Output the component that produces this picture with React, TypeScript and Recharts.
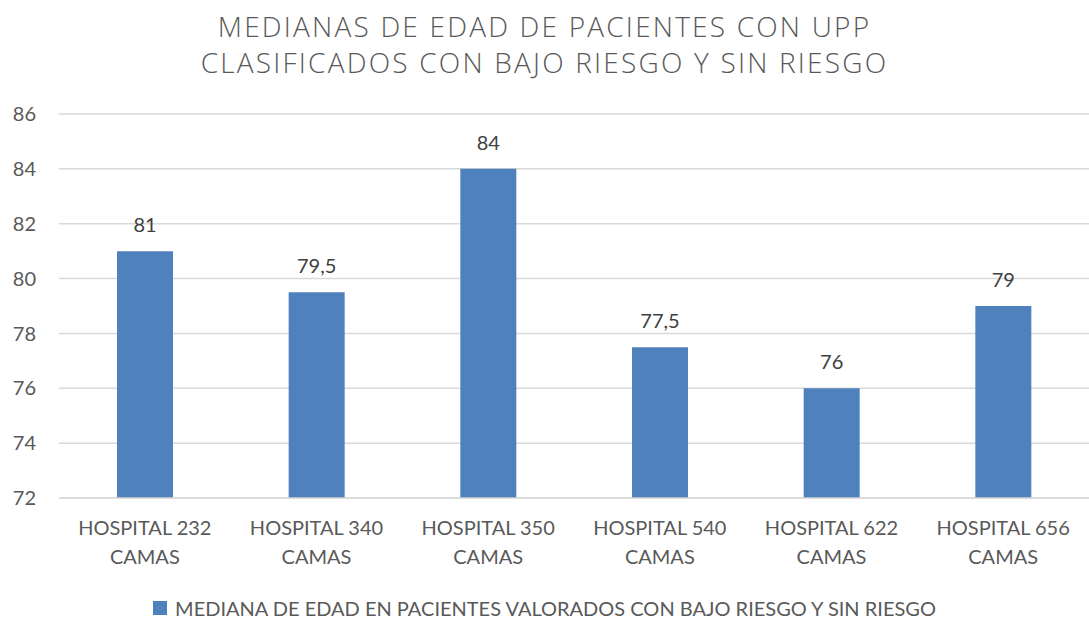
import React from 'react';
import { BarChart, Bar, XAxis, YAxis, CartesianGrid, Legend, LabelList } from 'recharts';

const categories = [
  'HOSPITAL 232 CAMAS',
  'HOSPITAL 340 CAMAS',
  'HOSPITAL 350 CAMAS',
  'HOSPITAL 540 CAMAS',
  'HOSPITAL 622 CAMAS',
  'HOSPITAL 656 CAMAS',
];
const medianAges = [81, 79.5, 84, 77.5, 76, 79];
const yTicks = [72, 74, 76, 78, 80, 82, 84, 86];
const seriesName = 'MEDIANA DE EDAD EN PACIENTES VALORADOS CON BAJO RIESGO Y SIN RIESGO';
const titleLines = ['MEDIANAS DE EDAD DE PACIENTES CON UPP', 'CLASIFICADOS CON BAJO RIESGO Y SIN RIESGO'];

const data = categories.map((name, i) => ({ name, value: medianAges[i] }));

const BAR_COLOR = '#4f81bd';
const TEXT_COLOR = '#595959';
const FONT = 'Lato, "Open Sans", sans-serif';

const CategoryTick = (props: any) => {
  const { x, y, payload } = props;
  const words = String(payload.value).split(' ');
  const first = words.slice(0, 2).join(' ');
  const second = words.slice(2).join(' ');
  return (
    <g transform={`translate(${x},${y})`}>
      <text textAnchor="middle" fill={TEXT_COLOR} fontSize={20} fontFamily={FONT}>
        <tspan x={0} y={29}>{first}</tspan>
        <tspan x={0} y={58}>{second}</tspan>
      </text>
    </g>
  );
};

const LegendContent = () => (
  <div style={{ display: 'flex', justifyContent: 'center', alignItems: 'center', paddingTop: 21, fontFamily: FONT, fontSize: 20, lineHeight: '18px', color: TEXT_COLOR }}>
    <span style={{ width: 14, height: 14, background: BAR_COLOR, marginRight: 8, display: 'inline-block' }} />
    <span>{seriesName}</span>
  </div>
);

const App: React.FC = () => {
  return (
    <div style={{ position: 'absolute', left: 0, top: 0, width: 1089, height: 620, background: '#fff' }}>
      <div style={{ position: 'absolute', left: 0, top: 8, width: 1089, textAlign: 'center', fontFamily: '"Open Sans", sans-serif', fontWeight: 300, fontSize: 28, lineHeight: '36px', color: TEXT_COLOR, letterSpacing: 2.2 }}>
        {titleLines.map((t) => (
          <div key={t}>{t}</div>
        ))}
      </div>
      <BarChart
        width={1089}
        height={620}
        data={data}
        margin={{ top: 114, right: 0, bottom: 0, left: 0 }}
        barCategoryGap={58}
      >
        <CartesianGrid vertical={false} stroke="#d9d9d9" strokeWidth={1.5} />
        <XAxis
          dataKey="name"
          height={80}
          tick={<CategoryTick />}
          tickLine={false}
          axisLine={{ stroke: '#d9d9d9', strokeWidth: 1.5 }}
          interval={0}
        />
        <YAxis
          width={59}
          domain={[72, 86]}
          ticks={yTicks}
          tickLine={false}
          axisLine={false}
          tick={{ fill: TEXT_COLOR, fontSize: 20, fontFamily: FONT }}
          tickMargin={17}
        />
        <Legend verticalAlign="bottom" height={42} content={<LegendContent />} />
        <Bar dataKey="value" name={seriesName} fill={BAR_COLOR} isAnimationActive={false}>
          <LabelList
            dataKey="value"
            position="top"
            offset={19}
            fill="#404040"
            fontSize={20}
            fontFamily={FONT}
            formatter={(v: any) => String(v).replace('.', ',')}
          />
        </Bar>
      </BarChart>
    </div>
  );
};

export default App;
